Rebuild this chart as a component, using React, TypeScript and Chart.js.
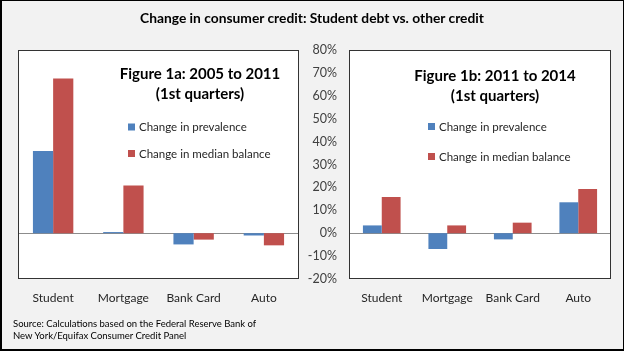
import React, { useEffect, useRef } from "react";
import { Chart, registerables } from "chart.js";

Chart.register(...registerables);

const categories = ["Student", "Mortgage", "Bank Card", "Auto"];
const seriesLabels = ["Change in prevalence", "Change in median balance"];
const prevalence2005to2011 = [35.9, 0.5, -4.9, -1.0];
const medianBalance2005to2011 = [67.6, 20.8, -2.8, -5.3];
const prevalence2011to2014 = [3.4, -6.9, -2.7, 13.5];
const medianBalance2011to2014 = [15.8, 3.4, 4.6, 19.3];
const yMin = -20;
const yMax = 80;
const yStep = 10;
const titleText = "Change in consumer credit: Student debt vs. other credit";
const figureTitleA = ["Figure 1a: 2005 to 2011", "(1st quarters)"];
const figureTitleB = ["Figure 1b: 2011 to 2014", "(1st quarters)"];
const sourceLines = [
  "Source: Calculations based on the Federal Reserve Bank of",
  "New York/Equifax Consumer Credit Panel",
];

const BLUE = "#4f81bd";
const RED = "#c0504d";
const FONT = "Lato, 'Open Sans', sans-serif";

const plotFrame = {
  id: "plotFrame",
  beforeDraw(chart: any) {
    const { ctx, chartArea: a } = chart;
    ctx.save();
    ctx.fillStyle = "#ffffff";
    ctx.fillRect(a.left, a.top, a.right - a.left, a.bottom - a.top);
    ctx.restore();
  },
  beforeDatasetsDraw(chart: any) {
    const { ctx, chartArea: a } = chart;
    const y0 = Math.round(chart.scales.y.getPixelForValue(0)) + 0.5;
    ctx.save();
    ctx.strokeStyle = "#8c8c8c";
    ctx.lineWidth = 1;
    ctx.beginPath();
    ctx.moveTo(a.left, y0);
    ctx.lineTo(a.right, y0);
    ctx.stroke();
    ctx.restore();
  },
  afterDatasetsDraw(chart: any) {
    const { ctx, chartArea: a } = chart;
    ctx.save();
    ctx.strokeStyle = "#333333";
    ctx.lineWidth = 1;
    const l = Math.round(a.left) + 0.5;
    const t = Math.round(a.top) + 0.5;
    const r = Math.round(a.right) - 0.5;
    const b = Math.round(a.bottom) - 0.5;
    ctx.strokeRect(l, t, r - l, b - t);
    ctx.restore();
  },
  afterDraw(chart: any) {
    const o = chart.options.plugins.figureText;
    if (!o) return;
    const { ctx, chartArea: a } = chart;
    ctx.save();
    ctx.fillStyle = "#000000";
    ctx.font = `bold 15px ${FONT}`;
    ctx.textAlign = "center";
    ctx.textBaseline = "middle";
    o.lines.forEach((ln: string, i: number) => {
      ctx.fillText(ln, a.left + o.cx, a.top + o.ty + i * o.tGap);
    });
    ctx.font = `11.5px ${FONT}`;
    ctx.textAlign = "left";
    chart.data.datasets.forEach((ds: any, i: number) => {
      const y = a.top + o.ly + i * o.lGap;
      ctx.fillStyle = ds.backgroundColor;
      ctx.fillRect(a.left + o.lx, y - 3.5, 7, 7);
      ctx.fillStyle = "#262626";
      ctx.fillText(ds.label, a.left + o.lx + 11, y + 0.5);
    });
    ctx.restore();
  },
};

function makeConfig(
  prev: number[],
  med: number[],
  yWidth: number,
  padding: any,
  figure: any
): any {
  return {
    type: "bar",
    data: {
      labels: categories,
      datasets: [
        { label: seriesLabels[0], data: prev, backgroundColor: BLUE },
        { label: seriesLabels[1], data: med, backgroundColor: RED },
      ],
    },
    options: {
      responsive: false,
      animation: false,
      layout: { padding },
      datasets: { bar: { categoryPercentage: 0.575, barPercentage: 1.0 } },
      plugins: {
        legend: { display: false },
        tooltip: { enabled: false },
        title: { display: false },
        figureText: figure,
      },
      scales: {
        x: {
          grid: { display: false, drawTicks: false },
          border: { display: false },
          ticks: {
            color: "#262626",
            font: { family: FONT, size: 12 },
            padding: 12,
            maxRotation: 0,
          },
          afterFit: (s: any) => {
            s.height = 72;
          },
        },
        y: {
          display: yWidth > 0,
          min: yMin,
          max: yMax,
          grid: { display: false, drawTicks: false },
          border: { display: false },
          ticks: {
            stepSize: yStep,
            color: "#404040",
            font: { family: FONT, size: 12.5 },
            padding: 12,
            callback: (v: any) => `${v}%`,
          },
          afterFit: (s: any) => {
            s.width = yWidth;
          },
        },
      },
    },
    plugins: [plotFrame],
  };
}

export default function App() {
  const leftRef = useRef<HTMLCanvasElement>(null);
  const rightRef = useRef<HTMLCanvasElement>(null);

  useEffect(() => {
    const c1 = new Chart(
      leftRef.current as HTMLCanvasElement,
      makeConfig(
        prevalence2005to2011,
        medianBalance2005to2011,
        0,
        { left: 18, right: 1, top: 50, bottom: 0 },
        { lines: figureTitleA, cx: 182, ty: 24.5, tGap: 20, lx: 110, ly: 77, lGap: 26.5 }
      )
    );
    const c2 = new Chart(
      rightRef.current as HTMLCanvasElement,
      makeConfig(
        prevalence2011to2014,
        medianBalance2011to2014,
        49,
        { left: 0, right: 13, top: 50, bottom: 0 },
        { lines: figureTitleB, cx: 146, ty: 26.5, tGap: 19.5, lx: 79, ly: 76.5, lGap: 30 }
      )
    );
    return () => {
      c1.destroy();
      c2.destroy();
    };
  }, []);

  return (
    <div
      style={{
        position: "fixed",
        left: 0,
        top: 0,
        width: 624,
        height: 351,
        background: "#f2f2f2",
        overflow: "hidden",
        fontFamily: FONT,
      }}
    >
      <canvas
        ref={leftRef}
        width={300}
        height={351}
        style={{ position: "absolute", left: 0, top: 0 }}
      />
      <canvas
        ref={rightRef}
        width={324}
        height={351}
        style={{ position: "absolute", left: 300, top: 0 }}
      />
      <div
        style={{
          position: "absolute",
          left: 0,
          top: 9,
          width: 624,
          textAlign: "center",
          fontWeight: "bold",
          fontSize: 13.8,
          lineHeight: "18px",
          color: "#000",
        }}
      >
        {titleText}
      </div>
      <div
        style={{
          position: "absolute",
          left: 13,
          top: 318,
          fontSize: 9.5,
          lineHeight: "12.4px",
          letterSpacing: 0,
          color: "#000",
          whiteSpace: "nowrap",
        }}
      >
        {sourceLines.map((s, i) => (
          <div key={i}>{s}</div>
        ))}
      </div>
      <div
        style={{
          position: "absolute",
          left: 0,
          top: 0,
          width: 624,
          height: 351,
          boxSizing: "border-box",
          border: "1px solid #000",
          borderLeftWidth: 2,
          borderBottomWidth: 2,
          pointerEvents: "none",
        }}
      />
    </div>
  );
}
